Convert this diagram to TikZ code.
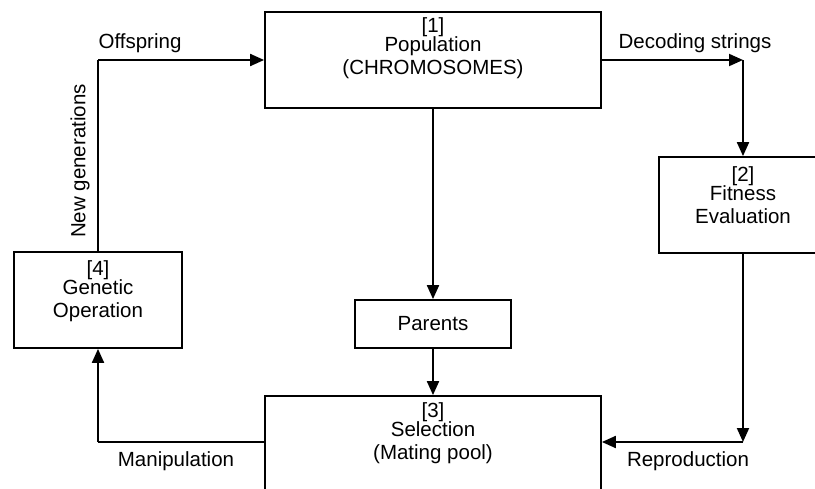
\documentclass[tikz,border=0pt]{standalone}
\usepackage{fontspec}
\setmainfont{Liberation Sans}
\usetikzlibrary{arrows.meta}
\begin{document}
\begin{tikzpicture}[x=1pt,y=-1pt,
  box/.style={draw, line width=1.8pt, rectangle, inner sep=0pt},
  txt/.style={align=center, inner sep=0pt, font=\fontsize{20.5}{23}\selectfont},
  lbl/.style={inner sep=0pt, font=\fontsize{20.5}{23}\selectfont},
  flow/.style={line width=2pt, -{Triangle[length=14pt,width=12pt]}},
  wire/.style={line width=2pt}]
\useasboundingbox (0,0) rectangle (815,488);
\clip (0,0) rectangle (815,488);
\fill[white] (0,0) rectangle (815,488);

% blocks of the cycle
\node[box, minimum width=336pt, minimum height=96pt] (pop) at (433,60) {};
\node[box, minimum width=168pt, minimum height=96pt] (fit) at (743,205) {};
\node[box, minimum width=336pt, minimum height=96pt] (sel) at (433,444) {};
\node[box, minimum width=168pt, minimum height=96pt] (gen) at (98,300) {};
\node[box, minimum width=156pt, minimum height=48pt] (par) at (433,324) {};

% block captions
\node[txt] (popt) at (433,48) {[1]\\[-3.5pt]Population\\(CHROMOSOMES)};
\node[txt] (fitt) at (743,195) {[2]\\[-3.5pt]Fitness\\Evaluation};
\node[txt] (selt) at (433,433) {[3]\\[-3.5pt]Selection\\(Mating pool)};
\node[txt] (gent) at (98,291) {[4]\\[-3.5pt]Genetic\\Operation};
\node[txt] (part) at (433,324) {Parents};

% corner points of the connectors
\coordinate (dec) at (743,60);
\coordinate (rep) at (743,442);
\coordinate (man) at (98,442);
\coordinate (off) at (98,60);

% connectors
\draw[flow] (pop.east) -- (dec);
\draw[flow] (dec) -- (fit.north);
\draw[flow] (fit.south) -- (rep);
\draw[flow] (rep) -- (rep -| sel.east);
\draw[wire] (man -| sel.west) -- (man);
\draw[flow] (man) -- (gen.south);
\draw[wire] (gen.north) -- (off);
\draw[flow] (off) -- (pop.west);
\draw[flow] (pop.south) -- (par.north);
\draw[flow] (par.south) -- (sel.north);

% connector labels
\node[lbl] (loff) at (140,43) {Offspring};
\node[lbl] (ldec) at (695,43) {Decoding strings};
\node[lbl, rotate=90] (lnew) at (80,161) {New generations};
\node[lbl] (lman) at (176,461) {Manipulation};
\node[lbl] (lrep) at (688,461) {Reproduction};
\end{tikzpicture}
\end{document}
